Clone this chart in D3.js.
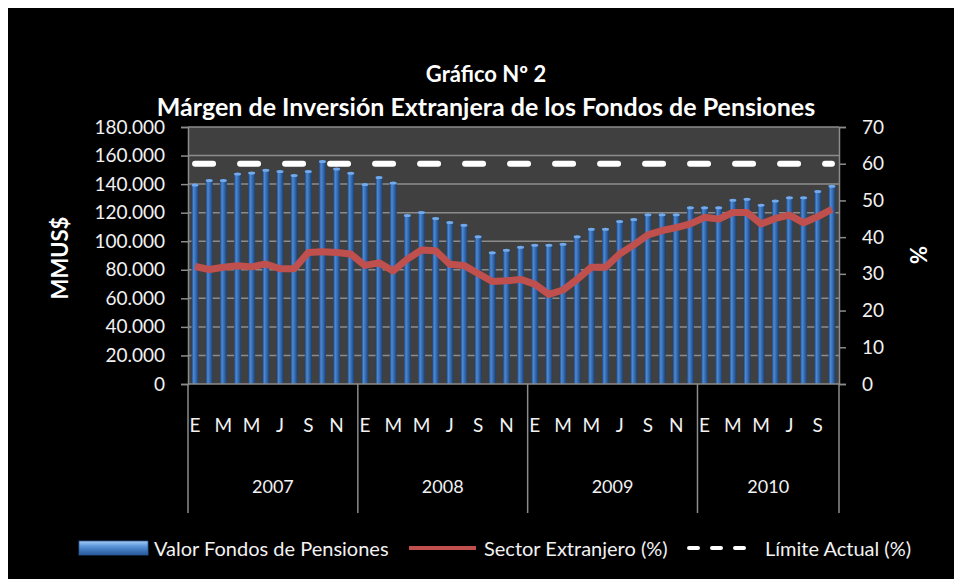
<!DOCTYPE html>
<html>
<head>
<meta charset="utf-8">
<script src="https://cdn.jsdelivr.net/npm/d3@7"></script>
<style>
  body { margin: 0; background: #ffffff; }
  svg text { font-family: Lato, "Open Sans", sans-serif; }
</style>
</head>
<body>
<div id="chart"></div>
<script>
// Valor Fondos de Pensiones (MMUS$), monthly Jan 2007 - Oct 2010
const fondos = [
  140100, 143300, 143300, 147800, 148500, 150400, 149600, 146800, 149600, 156600, 151300, 148300,
  140500, 145300, 141500, 118800, 120900, 116700, 113900, 111800, 103900,  92700,  94300,  96400,
   97800,  97800,  98500, 103900, 109000, 109000, 114600, 116000, 119300, 119300, 119300, 124200,
  124200, 124200, 129400, 130100, 125900, 128900, 131200, 131200, 135600, 139200
];
// Sector Extranjero (%)
const sectorExt = [
  32.0, 31.2, 31.8, 32.2, 31.9, 32.7, 31.4, 31.4, 35.8, 36.0, 35.8, 35.4,
  32.3, 33.0, 30.8, 34.0, 36.5, 36.3, 32.6, 32.3, 30.1, 27.9, 28.1, 28.5,
  27.2, 24.4, 25.6, 28.5, 31.8, 31.8, 35.4, 37.9, 40.6, 41.8, 42.6, 43.6,
  45.4, 44.9, 46.7, 46.7, 43.6, 45.1, 46.0, 43.9, 45.6, 47.6
];
// Límite Actual (%)
const limiteActual = 60;

const years = ['2007', '2008', '2009', '2010'];
const monthsPerYear = [12, 12, 12, 10];
const monthLetters = ['E', 'F', 'M', 'A', 'M', 'J', 'J', 'A', 'S', 'O', 'N', 'D'];
const leftTicks = [0, 20000, 40000, 60000, 80000, 100000, 120000, 140000, 160000, 180000];
const rightTicks = [0, 10, 20, 30, 40, 50, 60, 70];

const titleLines = ['Gráfico Nº 2', 'Márgen de Inversión Extranjera de los Fondos de Pensiones'];
const legendNames = ['Valor Fondos de Pensiones', 'Sector Extranjero (%)', 'Límite Actual (%)'];

const W = 954, H = 579;
const plot = { left: 188, right: 839, top: 127, bottom: 384 };
const gridColor = '#8c8c8c';
const textColor = '#f2f2f2';

const esLocale = d3.formatLocale({ decimal: ',', thousands: '.', grouping: [3], currency: ['$', ''] });
const fmt = esLocale.format(',');

// month index + label per position
const monthIdx = [];
monthsPerYear.forEach((n, y) => { for (let m = 0; m < n; m++) monthIdx.push({ y, m }); });

const svg = d3.select('#chart').append('svg')
  .attr('width', W)
  .attr('height', H);

svg.append('rect').attr('width', W).attr('height', H).attr('fill', '#ffffff');
svg.append('rect').attr('x', 8).attr('y', 8).attr('width', W - 8).attr('height', H - 8).attr('fill', '#000000');

const defs = svg.append('defs');
const barGrad = defs.append('linearGradient').attr('id', 'barGrad').attr('x1', 0).attr('x2', 1).attr('y1', 0).attr('y2', 0);
[[0, '#1b4277'], [0.3, '#4d89d3'], [0.55, '#3a70b6'], [1, '#1a4174']].forEach(([o, c]) =>
  barGrad.append('stop').attr('offset', o).attr('stop-color', c));
const legGrad = defs.append('linearGradient').attr('id', 'legGrad').attr('x1', 0).attr('x2', 0).attr('y1', 0).attr('y2', 1);
[[0, '#a9cdf5'], [0.35, '#5f98dc'], [0.7, '#3d73b8'], [1, '#2a5a98']].forEach(([o, c]) =>
  legGrad.append('stop').attr('offset', o).attr('stop-color', c));

// scales
const step = (plot.right - plot.left) / fondos.length;
const cx = i => plot.left + (i + 0.5) * step;

const yL = d3.scaleLinear().domain([0, 180000]).range([plot.bottom, plot.top]);
const yR = d3.scaleLinear().domain([0, 70]).range([plot.bottom, plot.top]);

// plot background
svg.append('rect')
  .attr('x', plot.left).attr('y', plot.top)
  .attr('width', plot.right - plot.left).attr('height', plot.bottom - plot.top)
  .attr('fill', '#404040');

// grid lines
svg.append('g')
  .selectAll('line')
  .data(leftTicks.filter(d => d > 0))
  .join('line')
  .attr('x1', plot.left).attr('x2', plot.right)
  .attr('y1', d => yL(d)).attr('y2', d => yL(d))
  .attr('stroke', gridColor)
  .attr('stroke-width', 1.5);

// bars (cylinder look)
const bw = 7;
svg.append('g')
  .selectAll('rect')
  .data(fondos)
  .join('rect')
  .attr('x', (d, i) => cx(i) - bw / 2)
  .attr('y', d => yL(d))
  .attr('width', bw)
  .attr('height', d => plot.bottom - yL(d))
  .attr('fill', 'url(#barGrad)');
svg.append('g')
  .selectAll('ellipse')
  .data(fondos)
  .join('ellipse')
  .attr('cx', (d, i) => cx(i))
  .attr('cy', d => yL(d) + 1)
  .attr('rx', bw / 2)
  .attr('ry', 1.5)
  .attr('fill', '#72aaeb');

// limit line (dashed)
svg.append('line')
  .attr('x1', cx(0)).attr('x2', cx(fondos.length - 1))
  .attr('y1', yR(limiteActual)).attr('y2', yR(limiteActual))
  .attr('stroke', '#ffffff')
  .attr('stroke-width', 6)
  .attr('stroke-linecap', 'round')
  .attr('stroke-dasharray', '18,27');

// sector extranjero line
svg.append('path')
  .datum(sectorExt)
  .attr('fill', 'none')
  .attr('stroke', '#c0504d')
  .attr('stroke-width', 7)
  .attr('stroke-linejoin', 'round')
  .attr('d', d3.line().x((d, i) => cx(i)).y(d => yR(d)));

// left axis
const leftAxis = svg.append('g')
  .attr('transform', `translate(${plot.left},0)`)
  .call(d3.axisLeft(yL).tickValues(leftTicks).tickFormat(fmt).tickSize(7).tickPadding(16));
leftAxis.selectAll('line, path').attr('stroke', gridColor).attr('stroke-width', 1.5);
leftAxis.selectAll('text').attr('fill', textColor).style('font-size', '19px');

// right axis
const rightAxis = svg.append('g')
  .attr('transform', `translate(${plot.right},0)`)
  .call(d3.axisRight(yR).tickValues(rightTicks).tickSize(7).tickPadding(16));
rightAxis.selectAll('line, path').attr('stroke', gridColor).attr('stroke-width', 1.5);
rightAxis.selectAll('text').attr('fill', textColor).style('font-size', '19px');

// bottom axis line
svg.append('line')
  .attr('x1', plot.left).attr('x2', plot.right)
  .attr('y1', plot.bottom).attr('y2', plot.bottom)
  .attr('stroke', gridColor).attr('stroke-width', 1.5);

// year separators
let acc = 0;
const bounds = [0];
monthsPerYear.forEach(n => { acc += n; bounds.push(acc); });
svg.append('g')
  .selectAll('line')
  .data(bounds)
  .join('line')
  .attr('x1', d => plot.left + d * step).attr('x2', d => plot.left + d * step)
  .attr('y1', plot.bottom).attr('y2', 513)
  .attr('stroke', gridColor).attr('stroke-width', 1.5);

// month labels (every other month)
svg.append('g')
  .selectAll('text')
  .data(monthIdx.map((d, i) => ({ ...d, i })).filter(d => d.m % 2 === 0))
  .join('text')
  .attr('x', d => cx(d.i))
  .attr('y', 424)
  .attr('text-anchor', 'middle')
  .attr('dominant-baseline', 'central')
  .attr('fill', textColor)
  .style('font-size', '19px')
  .text(d => monthLetters[d.m]);

// year labels
svg.append('g')
  .selectAll('text')
  .data(years)
  .join('text')
  .attr('x', (d, i) => plot.left + (bounds[i] + bounds[i + 1]) / 2 * step)
  .attr('y', 486)
  .attr('text-anchor', 'middle')
  .attr('dominant-baseline', 'central')
  .attr('fill', textColor)
  .style('font-size', '18px')
  .text(d => d);

// title
svg.append('g')
  .selectAll('text')
  .data(titleLines)
  .join('text')
  .attr('x', 486)
  .attr('y', (d, i) => 82 + i * 34)
  .attr('text-anchor', 'middle')
  .attr('fill', '#ffffff')
  .style('font-size', (d, i) => i === 0 ? '22px' : '25px')
  .style('font-weight', 'bold')
  .text(d => d);

// axis titles
svg.append('text')
  .attr('transform', 'translate(59,258) rotate(-90)')
  .attr('text-anchor', 'middle')
  .attr('dominant-baseline', 'central')
  .attr('fill', '#ffffff')
  .style('font-size', '22px')
  .style('font-weight', 'bold')
  .text('MMUS$');
svg.append('text')
  .attr('transform', 'translate(918,255) rotate(-90)')
  .attr('text-anchor', 'middle')
  .attr('dominant-baseline', 'central')
  .attr('fill', '#ffffff')
  .style('font-size', '22px')
  .style('font-weight', 'bold')
  .text('%');

// legend
const legY = 548;
const legend = svg.append('g');
legend.append('rect')
  .attr('x', 79).attr('y', legY - 7).attr('width', 69).attr('height', 14)
  .attr('fill', 'url(#legGrad)').attr('stroke', '#2a5a98').attr('stroke-width', 0.8);
legend.append('line')
  .attr('x1', 409).attr('x2', 476).attr('y1', legY).attr('y2', legY)
  .attr('stroke', '#c0504d').attr('stroke-width', 4);
legend.append('line')
  .attr('x1', 689).attr('x2', 748).attr('y1', legY).attr('y2', legY)
  .attr('stroke', '#ffffff').attr('stroke-width', 4).attr('stroke-linecap', 'round')
  .attr('stroke-dasharray', '9,14');
legend.selectAll('text.leg')
  .data(legendNames)
  .join('text')
  .attr('class', 'leg')
  .attr('x', (d, i) => [154, 484, 765][i])
  .attr('y', legY)
  .attr('dominant-baseline', 'central')
  .attr('fill', textColor)
  .style('font-size', '20px')
  .text(d => d);
</script>
</body>
</html>
